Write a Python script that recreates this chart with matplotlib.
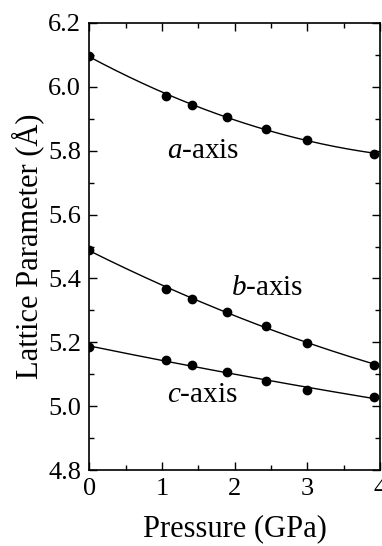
import numpy as np
import matplotlib
matplotlib.use("Agg")
import matplotlib.pyplot as plt
from matplotlib.ticker import MultipleLocator

pressure = [0.0, 1.06, 1.41, 1.89, 2.43, 3.0, 3.92]
a_axis = [6.097, 5.971, 5.943, 5.907, 5.869, 5.833, 5.790]
b_axis = [5.490, 5.366, 5.336, 5.296, 5.251, 5.199, 5.130]
c_axis = [5.185, 5.145, 5.130, 5.106, 5.080, 5.050, 5.029]

plt.rcParams['font.family'] = ['Liberation Serif', 'DejaVu Serif']
plt.rcParams['mathtext.fontset'] = 'custom'
plt.rcParams['mathtext.it'] = 'Liberation Serif:italic'
plt.rcParams['mathtext.rm'] = 'Liberation Serif'

fig = plt.figure(figsize=(3.82, 5.46), dpi=100)
ax = fig.add_axes([0.234, 0.139, 0.761, 0.819])

xs = np.linspace(0, 3.92, 200)
for series in (a_axis, b_axis, c_axis):
    coef = np.polyfit(pressure, series, 2)
    ax.plot(xs, np.polyval(coef, xs), color='black', lw=1.0)
    ax.plot(pressure, series, 'o', color='black', ms=6)

ax.text(1.56, 5.80, r'$\it{a}$-axis', fontsize=21, ha='center', va='center')
ax.text(2.44, 5.37, r'$\it{b}$-axis', fontsize=21, ha='center', va='center')
ax.text(1.56, 5.035, r'$\it{c}$-axis', fontsize=21, ha='center', va='center')

ax.set_xlim(0, 4)
ax.set_ylim(4.8, 6.2)
ax.xaxis.set_major_locator(MultipleLocator(1))
ax.xaxis.set_minor_locator(MultipleLocator(0.5))
ax.yaxis.set_major_locator(MultipleLocator(0.2))
ax.yaxis.set_minor_locator(MultipleLocator(0.1))
ax.yaxis.set_major_formatter(matplotlib.ticker.FormatStrFormatter('%.1f'))
ax.tick_params(which='both', direction='in', top=True, right=True, labelsize=19, width=1.0)
ax.tick_params(which='major', length=6, pad=6)
ax.tick_params(which='minor', length=3.5)
for s in ax.spines.values():
    s.set_linewidth(1.2)

ax.set_xlabel('Pressure (GPa)', fontsize=22, labelpad=10)
ax.set_ylabel('Lattice Parameter (Å)', fontsize=22, labelpad=3)

fig.savefig('out.png', dpi=100)
